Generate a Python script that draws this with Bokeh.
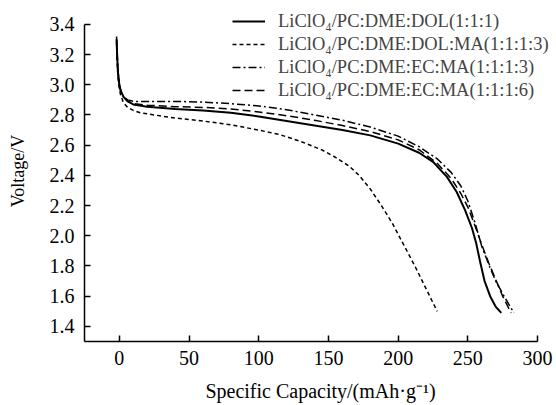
from bokeh.plotting import figure
from bokeh.models import Legend, LegendItem, FixedTicker, Range1d, PrintfTickFormatter
from bokeh.embed import file_html
from bokeh.resources import INLINE

FONT = "Liberation Serif"

x_ticks = [0, 50, 100, 150, 200, 250, 300]
y_ticks = [1.4, 1.6, 1.8, 2.0, 2.2, 2.4, 2.6, 2.8, 3.0, 3.2, 3.4]

labels = [
    "LiClO₄/PC:DME:DOL(1:1:1)",
    "LiClO₄/PC:DME:DOL:MA(1:1:1:3)",
    "LiClO₄/PC:DME:EC:MA(1:1:1:3)",
    "LiClO₄/PC:DME:EC:MA(1:1:1:6)",
]

# Series 1: LiClO4/PC:DME:DOL(1:1:1) - solid
cap_dol = [-2, -1.5, -1, 0, 1, 3, 6, 10, 20, 40, 60, 80, 100, 120, 140, 160, 180, 200,
           215, 225, 235, 242, 248, 253, 256, 259, 262, 266, 270, 274]
v_dol = [3.30, 3.18, 3.08, 3.00, 2.96, 2.92, 2.89, 2.87, 2.855, 2.84, 2.83, 2.815, 2.79,
         2.76, 2.73, 2.70, 2.665, 2.61, 2.55, 2.49, 2.39, 2.29, 2.17, 2.05, 1.95, 1.82,
         1.70, 1.60, 1.53, 1.49]

# Series 2: LiClO4/PC:DME:DOL:MA(1:1:1:3) - dotted
cap_dol_ma = [-2, -1.5, -1, 0, 1, 3, 6, 10, 15, 25, 40, 60, 80, 100, 115, 130, 145, 155,
              165, 172, 180, 188, 196, 204, 212, 220, 228]
v_dol_ma = [3.28, 3.15, 3.05, 2.97, 2.93, 2.88, 2.85, 2.83, 2.815, 2.80, 2.78, 2.76,
            2.735, 2.70, 2.67, 2.625, 2.57, 2.52, 2.46, 2.40, 2.31, 2.20, 2.08, 1.94,
            1.80, 1.65, 1.50]

# Series 3: LiClO4/PC:DME:EC:MA(1:1:1:3) - dash-dot
cap_ec3 = [-2, -1.5, -1, 0, 1, 3, 6, 10, 20, 40, 60, 80, 100, 120, 140, 160, 180, 200,
           215, 228, 238, 245, 250, 255, 260, 265, 270, 276, 283]
v_ec3 = [3.32, 3.20, 3.10, 3.00, 2.96, 2.92, 2.90, 2.89, 2.89, 2.89, 2.885, 2.875, 2.86,
         2.835, 2.80, 2.765, 2.72, 2.66, 2.59, 2.51, 2.42, 2.33, 2.23, 2.09, 1.93, 1.81,
         1.70, 1.60, 1.49]

# Series 4: LiClO4/PC:DME:EC:MA(1:1:1:6) - dashed
cap_ec6 = [-2, -1.5, -1, 0, 1, 3, 6, 10, 20, 40, 60, 80, 100, 120, 140, 160, 180, 200,
           215, 228, 238, 245, 250, 255, 260, 265, 270, 275, 281]
v_ec6 = [3.30, 3.18, 3.08, 3.00, 2.96, 2.92, 2.89, 2.875, 2.865, 2.855, 2.85, 2.84, 2.82,
         2.795, 2.765, 2.73, 2.69, 2.635, 2.57, 2.48, 2.38, 2.28, 2.19, 2.07, 1.94, 1.82,
         1.71, 1.60, 1.49]

# axis extents drawn (the frame is a little larger so the legend can sit beyond the axes)
x_axis_bounds = (-25, 300)
y_axis_bounds = (1.3, 3.4)

p = figure(width=556, height=405, output_backend="svg", toolbar_location=None,
           x_range=Range1d(-25, 313.6), y_range=Range1d(1.3, 3.558),
           min_border_left=84, min_border_right=0, min_border_top=0, min_border_bottom=64)
p.outline_line_color = None
p.xgrid.grid_line_color = None
p.ygrid.grid_line_color = None
p.background_fill_color = "white"
p.border_fill_color = "white"

r1 = p.line(cap_dol, v_dol, line_color="black", line_width=2)
r2 = p.line(cap_dol_ma, v_dol_ma, line_color="black", line_width=1.5, line_dash="4 3")
r3 = p.line(cap_ec3, v_ec3, line_color="black", line_width=1.5, line_dash="8 3 2 3")
r4 = p.line(cap_ec6, v_ec6, line_color="black", line_width=1.5, line_dash="8 4")

for ax in (p.xaxis[0], p.yaxis[0]):
    ax.axis_line_color = "black"
    ax.axis_line_width = 1.5
    ax.major_tick_line_color = "black"
    ax.major_tick_line_width = 1.5
    ax.major_tick_in = 6
    ax.major_tick_out = 0
    ax.minor_tick_line_color = None
    ax.major_label_text_font = FONT
    ax.major_label_text_font_size = "20px"
    ax.major_label_text_color = "black"
    ax.axis_label_text_font = FONT
    ax.axis_label_text_font_style = "normal"
    ax.axis_label_text_color = "black"

p.xaxis.bounds = x_axis_bounds
p.yaxis.bounds = y_axis_bounds
p.xaxis.ticker = FixedTicker(ticks=x_ticks)
p.yaxis.ticker = FixedTicker(ticks=y_ticks)
p.yaxis.formatter = PrintfTickFormatter(format="%.1f")
p.xaxis.axis_label = "Specific Capacity/(mAh·g⁻¹)"
p.yaxis.axis_label = "Voltage/V"
p.xaxis.axis_label_text_font_size = "20px"
p.yaxis.axis_label_text_font_size = "18px"
p.xaxis.major_label_standoff = 9
p.xaxis.axis_label_standoff = 12
p.yaxis.major_label_standoff = 10
p.yaxis.axis_label_standoff = 19

legend = Legend(items=[LegendItem(label=labels[0], renderers=[r1]),
                       LegendItem(label=labels[1], renderers=[r2]),
                       LegendItem(label=labels[2], renderers=[r3]),
                       LegendItem(label=labels[3], renderers=[r4])],
                location=(148, 240), padding=0, margin=0, spacing=1,
                glyph_width=33, glyph_height=22, label_height=22, label_standoff=13,
                label_text_font=FONT, label_text_font_size="18.5px",
                background_fill_alpha=0, border_line_color=None)
p.add_layout(legend)

open("out.html", "w").write(file_html(p, INLINE))
